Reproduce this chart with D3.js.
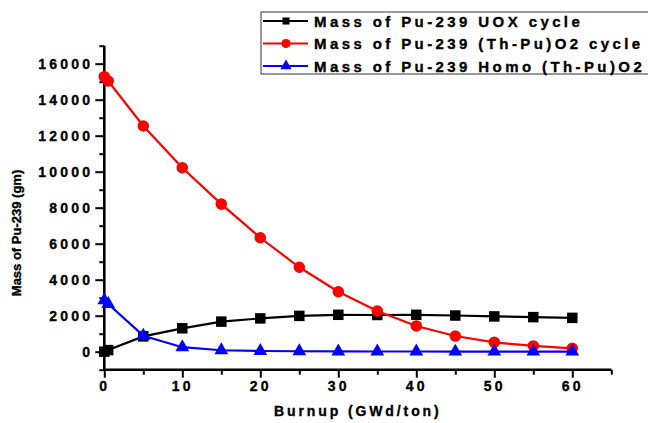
<!DOCTYPE html>
<html>
<head>
<meta charset="utf-8">
<script src="https://cdn.jsdelivr.net/npm/d3@7"></script>
<style>
  html, body { margin: 0; padding: 0; background: #fff; }
  svg { display: block; font-family: Arial, "Liberation Sans", sans-serif; }
  svg text { stroke: #000; stroke-width: 0.35px; }
</style>
</head>
<body>
<svg id="chart" width="648" height="423"></svg>
<script>
// Burnup steps (GWd/ton)
const burnup = [0, 0.5, 5, 10, 15, 20, 25, 30, 35, 40, 45, 50, 55, 60];

// Mass of Pu-239 (gm) per fuel cycle
const uoxMass    = [0, 90, 850, 1300, 1670, 1850, 1990, 2050, 2040, 2050, 2010, 1960, 1920, 1880];
const thPuMass   = [15280, 15040, 12540, 10220, 8200, 6330, 4690, 3330, 2260, 1430, 870, 520, 320, 190];
const homoMass   = [2850, 2650, 890, 250, 80, 40, 25, 15, 10, 10, 5, 5, 5, 5];

const seriesNames = [
  "Mass of Pu-239 UOX cycle",
  "Mass of Pu-239 (Th-Pu)O2 cycle",
  "Mass of Pu-239 Homo (Th-Pu)O2"
];

const xMajorTicks = [0, 10, 20, 30, 40, 50, 60];
const xMinorTicks = [5, 15, 25, 35, 45, 55, 65];
const yMajorTicks = [0, 2000, 4000, 6000, 8000, 10000, 12000, 14000, 16000];
const yMinorTicks = [-1000, 1000, 3000, 5000, 7000, 9000, 11000, 13000, 15000, 17000];

const xTitle = "Burnup (GWd/ton)";
const yTitle = "Mass of Pu-239 (gm)";

const svg = d3.select("#chart");

const x = d3.scaleLinear().domain([0, 65]).range([104.3, 611.3]);
const y = d3.scaleLinear().domain([-1000, 17000]).range([369.7, 45.7]);

const series = [
  { name: seriesNames[0], values: uoxMass,  color: "#000000", symbol: d3.symbolSquare,   size: 110 },
  { name: seriesNames[1], values: thPuMass, color: "#ff0000", symbol: d3.symbolCircle,   size: 105 },
  { name: seriesNames[2], values: homoMass, color: "#0000ff", symbol: d3.symbolTriangle, size: 82 }
];

// ---- axes ----
function styleAxis(g) {
  g.selectAll("line").attr("stroke", "#000").attr("stroke-width", 2);
  g.selectAll("text")
    .attr("fill", "#000")
    .style("font-size", "14px")
    .style("font-weight", "bold")
    .style("letter-spacing", "3.2px");
}

// minor ticks
svg.append("g")
  .attr("transform", `translate(0,${y(-1000)})`)
  .call(d3.axisBottom(x).tickValues(xMinorTicks).tickSize(5).tickFormat(""))
  .call(g => g.select(".domain").remove())
  .call(styleAxis);

svg.append("g")
  .attr("transform", `translate(${x(0)},0)`)
  .call(d3.axisLeft(y).tickValues(yMinorTicks).tickSize(5).tickFormat(""))
  .call(g => g.select(".domain").remove())
  .call(styleAxis);

// major ticks with labels
svg.append("g")
  .attr("transform", `translate(0,${y(-1000)})`)
  .call(d3.axisBottom(x).tickValues(xMajorTicks).tickSize(8).tickPadding(3).tickFormat(d3.format("d")))
  .call(g => g.select(".domain").remove())
  .call(styleAxis);

svg.append("g")
  .attr("transform", `translate(${x(0)},0)`)
  .call(d3.axisLeft(y).tickValues(yMajorTicks).tickSize(9).tickPadding(2).tickFormat(d3.format("d")))
  .call(g => g.select(".domain").remove())
  .call(styleAxis);

// axis lines
svg.append("line")
  .attr("x1", x(0)).attr("x2", x(65))
  .attr("y1", y(-1000)).attr("y2", y(-1000))
  .attr("stroke", "#000").attr("stroke-width", 2.6);
svg.append("line")
  .attr("x1", x(0)).attr("x2", x(0))
  .attr("y1", y(-1000) + 1.3).attr("y2", y(17000))
  .attr("stroke", "#000").attr("stroke-width", 2.6);

// axis titles
svg.append("text")
  .attr("x", (x(0) + x(65)) / 2)
  .attr("y", 416)
  .attr("text-anchor", "middle")
  .style("font-size", "14px")
  .style("font-weight", "bold")
  .style("letter-spacing", "2.9px")
  .text(xTitle);

svg.append("text")
  .attr("transform", "translate(21,233) rotate(-90)")
  .attr("text-anchor", "middle")
  .style("font-size", "13px")
  .style("font-weight", "bold")
  .text(yTitle);

// ---- series ----
const line = d3.line()
  .x((d, i) => x(burnup[i]))
  .y(d => y(d));

series.forEach(s => {
  const g = svg.append("g");
  g.append("path")
    .datum(s.values)
    .attr("fill", "none")
    .attr("stroke", s.color)
    .attr("stroke-width", 2.2)
    .attr("d", line);
  g.selectAll("path.marker")
    .data(s.values)
    .join("path")
    .attr("class", "marker")
    .attr("d", d3.symbol().type(s.symbol).size(s.size))
    .attr("transform", (d, i) => `translate(${x(burnup[i])},${y(d)})`)
    .attr("fill", s.color);
});

// ---- legend ----
const legend = svg.append("g");
legend.append("rect")
  .attr("x", 261).attr("y", 12)
  .attr("width", 420).attr("height", 62)
  .attr("fill", "#fff")
  .attr("stroke", "#555")
  .attr("stroke-width", 1.2);

const legendSizes = [50, 65, 55];
series.forEach((s, i) => {
  const cy = 21 + i * 22.5;
  const row = legend.append("g");
  row.append("line")
    .attr("x1", 263).attr("x2", 308)
    .attr("y1", cy).attr("y2", cy)
    .attr("stroke", s.color).attr("stroke-width", 2);
  row.append("path")
    .attr("d", d3.symbol().type(s.symbol).size(legendSizes[i]))
    .attr("transform", `translate(286,${cy})`)
    .attr("fill", s.color);
  row.append("text")
    .attr("x", 314)
    .attr("y", cy + 5.5)
    .style("font-size", "15px")
    .style("font-weight", "bold")
    .style("letter-spacing", "3.4px")
    .text(s.name);
});
</script>
</body>
</html>
